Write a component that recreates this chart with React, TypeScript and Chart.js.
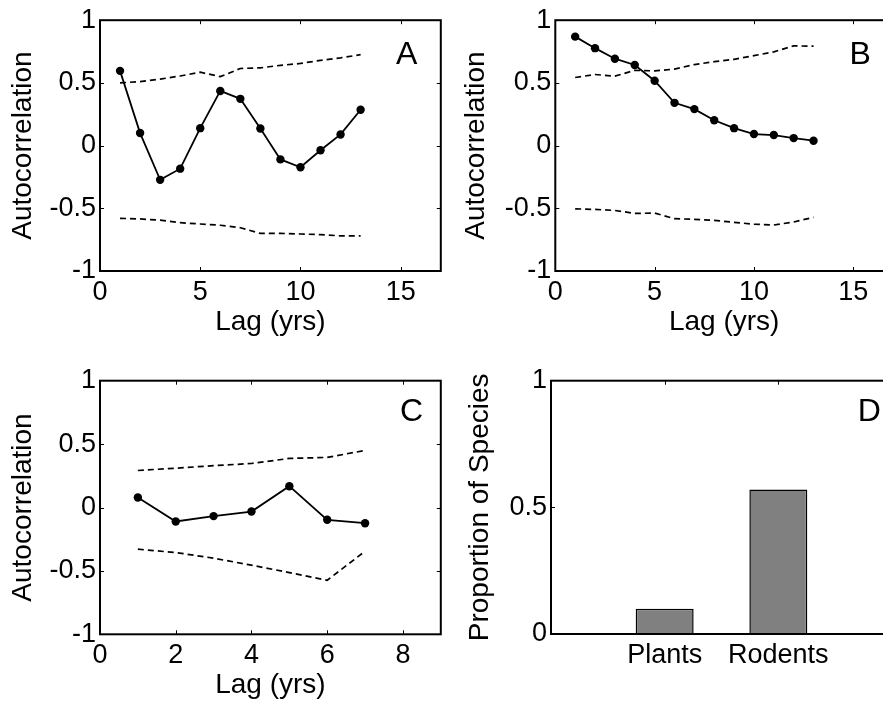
import React, { useEffect, useRef } from 'react';
import { Chart, registerables } from 'chart.js';

Chart.register(...registerables);

// ---------- data ----------
const lagsLong = [1, 2, 3, 4, 5, 6, 7, 8, 9, 10, 11, 12, 13];
const lagsShort = [1, 2, 3, 4, 5, 6, 7];

const acfA = [0.596, 0.1, -0.273, -0.184, 0.139, 0.436, 0.373, 0.136, -0.11, -0.173, -0.037, 0.089, 0.286];
const upperA = [0.5, 0.51, 0.53, 0.555, 0.585, 0.55, 0.615, 0.62, 0.64, 0.655, 0.68, 0.7, 0.725];
const lowerA = [-0.58, -0.585, -0.595, -0.615, -0.625, -0.635, -0.655, -0.7, -0.7, -0.705, -0.71, -0.72, -0.72];

const acfB = [0.869, 0.777, 0.693, 0.643, 0.517, 0.341, 0.291, 0.202, 0.139, 0.092, 0.084, 0.06, 0.039];
const upperB = [0.543, 0.567, 0.554, 0.6, 0.596, 0.61, 0.646, 0.669, 0.688, 0.717, 0.748, 0.795, 0.793];
const lowerB = [-0.504, -0.509, -0.517, -0.541, -0.538, -0.583, -0.588, -0.596, -0.612, -0.627, -0.633, -0.609, -0.572];

const acfC = [0.079, -0.11, -0.068, -0.032, 0.168, -0.097, -0.124];
const upperC = [0.292, 0.31, 0.33, 0.347, 0.387, 0.395, 0.45];
const lowerC = [-0.329, -0.355, -0.4, -0.455, -0.513, -0.574, -0.345];

const speciesGroups = ['Plants', 'Rodents'];
const speciesProportion = [0.1, 0.57];

const xTicksLong = [0, 5, 10, 15];
const xTicksShort = [0, 2, 4, 6, 8];
const yTicksAcf = [-1, -0.5, 0, 0.5, 1];
const yTicksProp = [0, 0.5, 1];
const xTicksSpecies = [1, 2];

// ---------- styling ----------
const FONT = '"Liberation Sans", Arial, Helvetica, sans-serif';
const TICK_SIZE = 27;
const TITLE_SIZE = 28;
const LETTER_SIZE = 32;

const toPts = (xs: number[], ys: number[]) => xs.map((x, i) => ({ x, y: ys[i] }));

function makeFramePlugin(letter: string, lx: number, ly: number) {
  return {
    id: 'frame' + letter,
    beforeDatasetsDraw(chart: any) {
      const { ctx, chartArea: a, scales } = chart;
      const xs = scales.x;
      const ys = scales.y;
      const tl = 4;
      ctx.save();
      ctx.strokeStyle = '#000';
      ctx.lineWidth = 1;
      ctx.beginPath();
      for (const t of xs.ticks) {
        const px = Math.round(xs.getPixelForValue(t.value)) + 0.5;
        if (px <= a.left + 1 || px >= a.right - 1) continue;
        ctx.moveTo(px, a.bottom);
        ctx.lineTo(px, a.bottom - tl);
        ctx.moveTo(px, a.top);
        ctx.lineTo(px, a.top + tl);
      }
      for (const t of ys.ticks) {
        const py = Math.round(ys.getPixelForValue(t.value)) + 0.5;
        if (py <= a.top + 1 || py >= a.bottom - 1) continue;
        ctx.moveTo(a.left, py);
        ctx.lineTo(a.left + tl, py);
        ctx.moveTo(a.right, py);
        ctx.lineTo(a.right - tl, py);
      }
      ctx.stroke();
      ctx.restore();
    },
    afterDatasetsDraw(chart: any) {
      const { ctx, chartArea: a, scales } = chart;
      ctx.save();
      ctx.strokeStyle = '#000';
      ctx.lineWidth = 2;
      ctx.strokeRect(a.left, a.top, a.right - a.left, a.bottom - a.top);
      ctx.fillStyle = '#000';
      ctx.font = `${LETTER_SIZE}px ${FONT}`;
      ctx.textAlign = 'center';
      ctx.textBaseline = 'middle';
      ctx.fillText(letter, scales.x.getPixelForValue(lx), scales.y.getPixelForValue(ly));
      ctx.restore();
    },
  };
}

interface Layout {
  w: number;
  h: number;
  left: number;
  top: number;
  right: number;
  bottom: number;
  yTitlePad: number;
  xTitlePad: number;
}

function axisCommon(layout: Layout) {
  return {
    x: {
      afterFit: (s: any) => {
        s.height = layout.h - layout.bottom;
      },
      grid: { display: false, drawTicks: false },
      border: { display: false },
    },
    y: {
      afterFit: (s: any) => {
        s.width = layout.left;
      },
      grid: { display: false, drawTicks: false },
      border: { display: false },
    },
  };
}

function acfConfig(
  lags: number[],
  acf: number[],
  upper: number[],
  lower: number[],
  xMax: number,
  xTicks: number[],
  layout: Layout,
  letter: string,
  lx: number,
  ly: number
): any {
  const common = axisCommon(layout);
  const dashed = {
    borderColor: '#000',
    borderWidth: 1.7,
    borderDash: [6, 4],
    pointRadius: 0,
    tension: 0,
  };
  return {
    type: 'line',
    data: {
      datasets: [
        { ...dashed, data: toPts(lags, upper) },
        { ...dashed, data: toPts(lags, lower) },
        {
          data: toPts(lags, acf),
          borderColor: '#000',
          borderWidth: 1.8,
          pointRadius: 4.2,
          pointBackgroundColor: '#000',
          pointBorderWidth: 0,
          tension: 0,
        },
      ],
    },
    options: {
      responsive: false,
      animation: false,
      events: [],
      layout: { padding: { left: 0, top: layout.top, right: layout.w - layout.right, bottom: 0 } },
      plugins: { legend: { display: false }, tooltip: { enabled: false } },
      scales: {
        x: {
          ...common.x,
          type: 'linear',
          min: 0,
          max: xMax,
          afterBuildTicks: (s: any) => {
            s.ticks = xTicks.map((v) => ({ value: v }));
          },
          ticks: {
            color: '#000',
            font: { family: FONT, size: TICK_SIZE },
            padding: 5,
            maxRotation: 0,
            callback: (v: number) => String(v),
          },
          title: {
            display: true,
            text: 'Lag (yrs)',
            color: '#000',
            font: { family: FONT, size: TITLE_SIZE },
            padding: { top: 0, bottom: layout.xTitlePad },
          },
        },
        y: {
          ...common.y,
          type: 'linear',
          min: -1,
          max: 1,
          afterBuildTicks: (s: any) => {
            s.ticks = yTicksAcf.map((v) => ({ value: v }));
          },
          ticks: {
            color: '#000',
            font: { family: FONT, size: TICK_SIZE },
            padding: 4,
            callback: (v: number) => String(v),
          },
          title: {
            display: true,
            text: 'Autocorrelation',
            color: '#000',
            font: { family: FONT, size: TITLE_SIZE },
            padding: { top: layout.yTitlePad, bottom: 0 },
          },
        },
      },
    },
    plugins: [makeFramePlugin(letter, lx, ly)],
  };
}

function barConfig(layout: Layout): any {
  const common = axisCommon(layout);
  return {
    type: 'bar',
    data: {
      datasets: [
        {
          data: toPts(xTicksSpecies, speciesProportion),
          backgroundColor: '#808080',
          borderColor: '#000',
          borderWidth: 1.5,
          barPercentage: 0.51,
          categoryPercentage: 1,
        },
      ],
    },
    options: {
      responsive: false,
      animation: false,
      events: [],
      layout: { padding: { left: 0, top: layout.top, right: layout.w - layout.right, bottom: 0 } },
      plugins: { legend: { display: false }, tooltip: { enabled: false } },
      scales: {
        x: {
          ...common.x,
          type: 'linear',
          offset: false,
          min: 0,
          max: 3,
          grid: { display: false, drawTicks: false, offset: false },
          afterBuildTicks: (s: any) => {
            s.ticks = xTicksSpecies.map((v) => ({ value: v }));
          },
          ticks: {
            color: '#000',
            font: { family: FONT, size: TICK_SIZE },
            padding: 5,
            maxRotation: 0,
            autoSkip: false,
            callback: (v: number) => speciesGroups[xTicksSpecies.indexOf(v)] ?? '',
          },
        },
        y: {
          ...common.y,
          type: 'linear',
          min: 0,
          max: 1,
          afterBuildTicks: (s: any) => {
            s.ticks = yTicksProp.map((v) => ({ value: v }));
          },
          ticks: {
            color: '#000',
            font: { family: FONT, size: TICK_SIZE },
            padding: 4,
            callback: (v: number) => String(v),
          },
          title: {
            display: true,
            text: 'Proportion of Species',
            color: '#000',
            font: { family: FONT, size: TITLE_SIZE },
            padding: { top: layout.yTitlePad, bottom: 0 },
          },
        },
      },
    },
    plugins: [makeFramePlugin('D', 2.8, 0.875)],
  };
}

const layoutA: Layout = { w: 445, h: 350, left: 100, top: 17, right: 441, bottom: 271, yTitlePad: 6.2, xTitlePad: 10.5 };
const layoutB: Layout = { w: 455, h: 350, left: 110.3, top: 17, right: 448, bottom: 271, yTitlePad: 14.2, xTitlePad: 10.5 };
const layoutC: Layout = { w: 445, h: 353, left: 100, top: 30.7, right: 441, bottom: 284.3, yTitlePad: 6.2, xTitlePad: 0.5 };
const layoutD: Layout = { w: 455, h: 353, left: 106, top: 30.7, right: 447, bottom: 284, yTitlePad: 18, xTitlePad: 0 };

function Panel({ make, layout, x, y }: { make: () => any; layout: Layout; x: number; y: number }) {
  const ref = useRef<HTMLCanvasElement>(null);
  useEffect(() => {
    const chart = new Chart(ref.current as HTMLCanvasElement, make());
    return () => chart.destroy();
  }, []);
  return (
    <canvas
      ref={ref}
      width={layout.w}
      height={layout.h}
      style={{ position: 'absolute', left: x, top: y, width: layout.w, height: layout.h }}
    />
  );
}

export default function App() {
  return (
    <div
      style={{
        position: 'absolute',
        left: 0,
        top: 0,
        width: 883,
        height: 703,
        overflow: 'hidden',
        background: '#fff',
      }}
    >
      <Panel
        layout={layoutA}
        x={0}
        y={0}
        make={() => acfConfig(lagsLong, acfA, upperA, lowerA, 17, xTicksLong, layoutA, 'A', 15.3, 0.72)}
      />
      <Panel
        layout={layoutB}
        x={445}
        y={0}
        make={() => acfConfig(lagsLong, acfB, upperB, lowerB, 17, xTicksLong, layoutB, 'B', 15.35, 0.72)}
      />
      <Panel
        layout={layoutC}
        x={0}
        y={350}
        make={() => acfConfig(lagsShort, acfC, upperC, lowerC, 9, xTicksShort, layoutC, 'C', 8.23, 0.75)}
      />
      <Panel layout={layoutD} x={445} y={350} make={() => barConfig(layoutD)} />
    </div>
  );
}
